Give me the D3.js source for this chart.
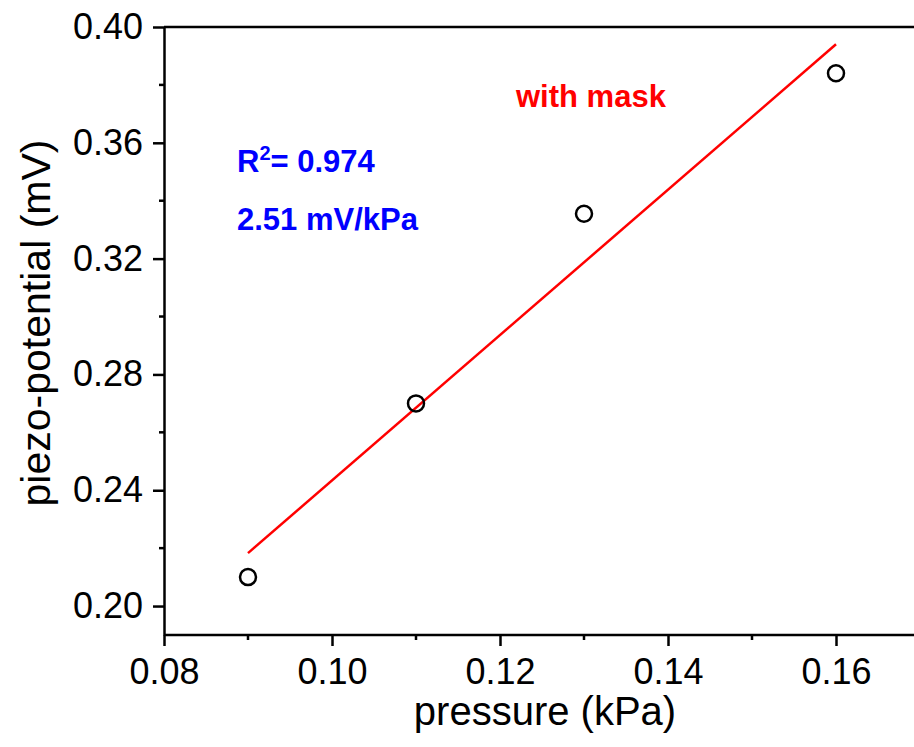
<!DOCTYPE html>
<html>
<head>
<meta charset="utf-8">
<script src="https://cdn.jsdelivr.net/npm/d3@7"></script>
<style>
  body { margin: 0; background: #fff; overflow: hidden; }
  svg { display: block; font-family: "Liberation Sans", Arial, sans-serif; }
</style>
</head>
<body>
<svg class="myChart" width="914" height="747" viewBox="0 0 914 747"></svg>
<script>
// measured points
const pressure = [0.09, 0.11, 0.13, 0.16];
const potential = [0.210, 0.270, 0.3355, 0.384];
const xTicks = [0.08, 0.10, 0.12, 0.14, 0.16];
const yTicks = [0.20, 0.24, 0.28, 0.32, 0.36, 0.40];
const xMinor = [0.09, 0.11, 0.13, 0.15];
const yMinor = [0.22, 0.26, 0.30, 0.34, 0.38];
const labelR2 = "0.974";
const labelSlope = "2.51 mV/kPa";
const labelSeries = "with mask";

const margin = {top: 27, right: 0, bottom: 112, left: 164};
const W = 914, H = 747;
const innerWidth = W - margin.left - margin.right;
const innerHeight = H - margin.top - margin.bottom;

const svg = d3.select('svg.myChart');
const g = svg.append('g').attr('transform', `translate(${margin.left},${margin.top})`);

// frame continues past the right edge of the picture (0.17 would sit at ~920px)
const xScale = d3.scaleLinear().domain([0.08, 0.17]).range([0, 756]);
const yScale = d3.scaleLinear().domain([0.19, 0.40]).range([innerHeight, 0]);

// least squares fit over the points
const mx = d3.mean(pressure), my = d3.mean(potential);
const sxy = d3.sum(pressure, (x, i) => (x - mx) * (potential[i] - my));
const sxx = d3.sum(pressure, x => (x - mx) * (x - mx));
const slope = sxy / sxx, icept = my - slope * mx;
const xExt = d3.extent(pressure);

const tickFont = 36;

// x axis
const xAxis = d3.axisBottom(xScale).tickValues(xTicks).tickFormat(d3.format('.2f')).tickSize(11).tickSizeOuter(0).tickPadding(12);
const gx = g.append('g').attr('transform', `translate(0,${innerHeight})`).call(xAxis);
gx.select('path.domain').attr('d', `M0,0H${innerWidth}`);
gx.append('g').selectAll('line').data(xMinor).enter().append('line')
  .attr('x1', d => xScale(d)).attr('x2', d => xScale(d)).attr('y1', 0).attr('y2', 5);

// y axis
const yAxis = d3.axisLeft(yScale).tickValues(yTicks).tickFormat(d3.format('.2f')).tickSize(11).tickSizeOuter(0).tickPadding(10);
const gy = g.append('g').call(yAxis);
gy.append('g').selectAll('line').data(yMinor).enter().append('line')
  .attr('y1', d => yScale(d)).attr('y2', d => yScale(d)).attr('x1', 0).attr('x2', -5);

[gx, gy].forEach(a => {
  a.attr('font-size', tickFont).attr('font-family', '"Liberation Sans", Arial, sans-serif');
  a.selectAll('path.domain').attr('stroke', '#000').attr('stroke-width', 2.5);
  a.selectAll('line').attr('stroke', '#000').attr('stroke-width', 2.5);
  a.selectAll('text').attr('fill', '#000');
});

// top frame
g.append('line').attr('x1', 0).attr('x2', innerWidth).attr('y1', 0).attr('y2', 0)
  .attr('stroke', '#000').attr('stroke-width', 2.5);

// fit line
g.append('line')
  .attr('x1', xScale(xExt[0])).attr('y1', yScale(slope * xExt[0] + icept))
  .attr('x2', xScale(xExt[1])).attr('y2', yScale(slope * xExt[1] + icept))
  .attr('stroke', '#ff0000').attr('stroke-width', 2.5);

// points
g.selectAll('circle.pt').data(pressure).enter().append('circle')
  .attr('class', 'pt')
  .attr('cx', d => xScale(d))
  .attr('cy', (d, i) => yScale(potential[i]))
  .attr('r', 8)
  .attr('fill', 'none').attr('stroke', '#000').attr('stroke-width', 2.5);

// annotations
const r2 = svg.append('text').attr('x', 237).attr('y', 172)
  .attr('fill', '#0000ff').attr('font-weight', 'bold').attr('font-size', '31px');
r2.append('tspan').text('R');
r2.append('tspan').text('2').attr('font-size', '20px').attr('dy', -12);
r2.append('tspan').text('= ' + labelR2).attr('dy', 12);

svg.append('text').attr('x', 237).attr('y', 230).text(labelSlope)
  .attr('fill', '#0000ff').attr('font-weight', 'bold').attr('font-size', '31px');

svg.append('text').attr('x', 516).attr('y', 107).text(labelSeries)
  .attr('fill', '#ff0000').attr('font-weight', 'bold').attr('font-size', '31px');

// axis titles
svg.append('text').attr('x', 545).attr('y', 725).attr('text-anchor', 'middle')
  .attr('font-size', '40px').text('pressure (kPa)');

svg.append('text').attr('transform', 'translate(50,323) rotate(-90)').attr('text-anchor', 'middle')
  .attr('font-size', '41px').text('piezo-potential (mV)');
</script>
</body>
</html>
